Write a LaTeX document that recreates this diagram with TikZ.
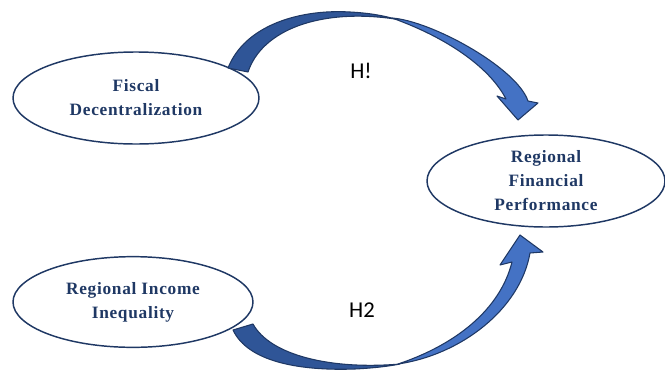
\documentclass[tikz,border=0pt]{standalone}
\usepackage{fontspec}
\setmainfont{Liberation Serif}
\newfontfamily\factorfont[LetterSpace=4]{Liberation Serif}
\newfontfamily\hypfont{Carlito}
\usetikzlibrary{shapes.geometric}
\definecolor{navy}{HTML}{1F3864}
\definecolor{darkblue}{HTML}{2F5597}
\definecolor{lightblue}{HTML}{4472C4}
\tikzstyle{factor} = [ellipse, draw=navy, line width=1.1pt, inner sep=0pt, text=navy, align=center, font=\factorfont\fontsize{13}{18}\selectfont\bfseries]
\tikzstyle{back} = [fill=darkblue, draw=navy, line width=0.8pt, line join=round]
\tikzstyle{front} = [fill=lightblue, draw=navy, line width=0.8pt, line join=round]
\tikzstyle{hyp} = [font=\hypfont\fontsize{17}{20}\selectfont]

\begin{document}
\begin{tikzpicture}[x=0.75pt,y=-0.75pt]
\useasboundingbox (0,0) rectangle (665,372);

\node (fiscal) [factor, minimum width=184.5pt, minimum height=69pt] at (136,98) {Fiscal\\Decentralization};
\node (perf) [factor, minimum width=178.5pt, minimum height=69pt] at (546,181) {Regional\\Financial\\Performance};
\node (income) [factor, minimum width=180pt, minimum height=68pt] at (133,302) {Regional Income\\Inequality};

% H1 arrow
\draw [back] (228,68) .. controls (245,25) and (300,9) .. (350,12) .. controls (370,13) and (385,16) .. (395,19) .. controls (320,8) and (262,30) .. (248,72) -- cycle;
\draw [front] (392,18) .. controls (432,21) and (517,68) .. (528,101) -- (538,103) -- (518,120) -- (497,96) -- (506,99) .. controls (490,68) and (448,38) .. (392,18) -- cycle;
\node (h1) [hyp] at (361,71) {H!};

% H2 arrow
\draw [back] (233,330) .. controls (248,362) and (300,371) .. (355,369) .. controls (375,368) and (390,366) .. (400,364) .. controls (330,370) and (270,355) .. (253,324) -- cycle;
\draw [front] (398,364) .. controls (460,355) and (520,310) .. (530,253) -- (543,252) -- (520,235) -- (500,265) -- (512,262) .. controls (500,310) and (455,345) .. (398,364) -- cycle;
\node (h2) [hyp] at (362,310) {H2};

\end{tikzpicture}
\end{document}
